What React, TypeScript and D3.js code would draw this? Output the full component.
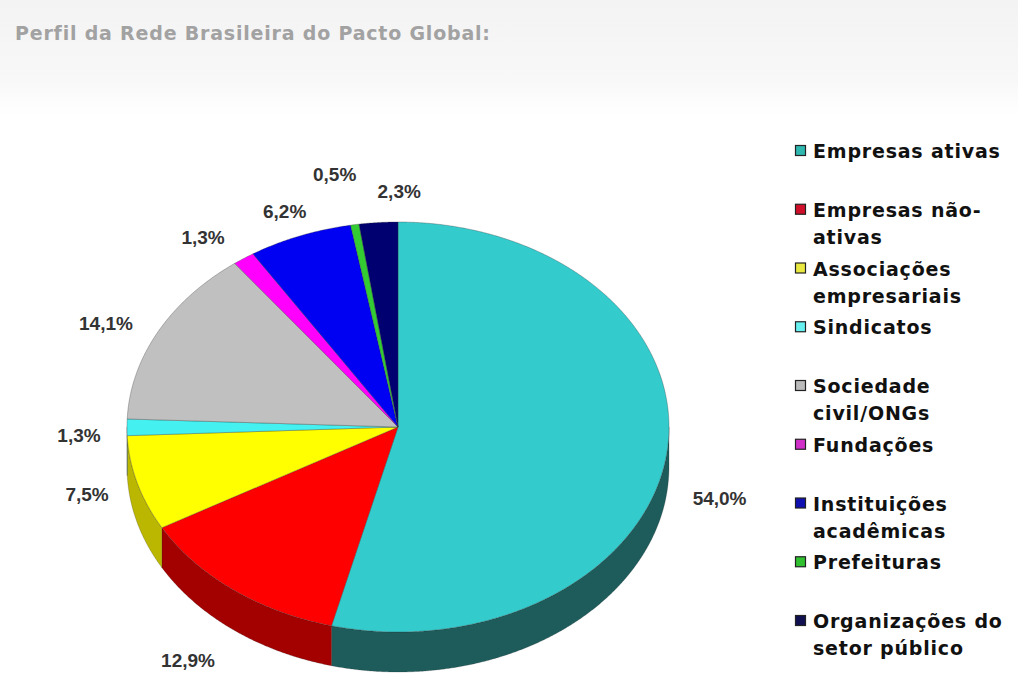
import React from 'react';
import * as d3 from 'd3';

// ---- data ----
const categories = [
  'Empresas ativas',
  'Empresas não-ativas',
  'Associações empresariais',
  'Sindicatos',
  'Sociedade civil/ONGs',
  'Fundações',
  'Instituições acadêmicas',
  'Prefeituras',
  'Organizações do setor público',
];
const legendLines = [
  ['Empresas ativas'],
  ['Empresas não-', 'ativas'],
  ['Associações', 'empresariais'],
  ['Sindicatos'],
  ['Sociedade', 'civil/ONGs'],
  ['Fundações'],
  ['Instituições', 'acadêmicas'],
  ['Prefeituras'],
  ['Organizações do', 'setor público'],
];
const values = [54.0, 12.9, 7.5, 1.3, 14.1, 1.3, 6.2, 0.5, 2.3];
const title = 'Perfil da Rede Brasileira do Pacto Global:';

// ---- styles ----
const topColors = ['#34CBCD', '#FF0000', '#FFFF00', '#44F0F0', '#C0C0C0', '#FF00FF', '#0000F2', '#33CC33', '#000070'];
const sideColors = ['#1E5C5C', '#A30000', '#BBB600', '#2AA0A0', '#808080', '#A000A0', '#0000A0', '#208020', '#000040'];
const legendColors = ['#2FB8B0', '#D0102A', '#E8E840', '#66F0F0', '#BBBBBB', '#D030C8', '#1010B0', '#30C030', '#101050'];
// label nudges relative to the computed outward anchor
const labelNudge: [number, number][] = [
  [8, 2], [-18, 3], [-7, -38], [-3, -32], [-12, 8], [-15, 8], [1, 8], [-13, -16], [24, 4],
];

const W = 1018, H = 675;
const cx = 398, cy = 427, rx = 271, ry = 205, depth = 40;

const pt = (a: number, dy = 0): [number, number] => [cx + rx * Math.sin(a), cy - ry * Math.cos(a) + dy];

function arcPts(a0: number, a1: number, dy = 0): [number, number][] {
  const n = Math.max(2, Math.ceil(Math.abs(a1 - a0) / 0.005));
  return d3.range(n + 1).map(i => pt(a0 + ((a1 - a0) * i) / n, dy));
}

const line = d3.line<[number, number]>().x(d => d[0]).y(d => d[1]);

function topPath(a0: number, a1: number) {
  return line([[cx, cy], ...arcPts(a0, a1)]) + 'Z';
}
function sidePath(a0: number, a1: number) {
  const s = Math.max(a0, Math.PI / 2);
  const e = Math.min(a1, (3 * Math.PI) / 2);
  if (s >= e) return null;
  return line([...arcPts(s, e), ...arcPts(e, s, depth)]) + 'Z';
}

const fmt = d3.formatLocale({ decimal: ',', thousands: '.', grouping: [3], currency: ['R$', ''] }).format('.1f');

export default function App() {
  const arcs = d3.pie<number>().sort(null).startAngle(0).endAngle(2 * Math.PI)(values);
  const legendY = d3.scaleLinear().domain([0, categories.length - 1]).range([158, 628]);

  return (
    <svg width={W} height={H} style={{ position: 'absolute', left: 0, top: 0, display: 'block' }}>
      <defs>
        <linearGradient id="band" x1="0" y1="0" x2="0" y2="1">
          <stop offset="0" stopColor="#f3f3f3" />
          <stop offset="0.7" stopColor="#f8f8f8" />
          <stop offset="1" stopColor="#ffffff" />
        </linearGradient>
      </defs>
      <rect x={0} y={0} width={W} height={H} fill="#fff" />
      <rect x={0} y={0} width={W} height={115} fill="url(#band)" />
      <text x={15} y={40} fontFamily="'DejaVu Sans', Verdana, sans-serif" fontWeight="bold" fontSize={19}
        fill="#a2a2a2" letterSpacing={0.8}>{title}</text>

      {/* sides */}
      <g>
        {arcs.map((d, i) => {
          const p = sidePath(d.startAngle, d.endAngle);
          return p ? <path key={'s' + i} d={p} fill={sideColors[i]} stroke="#222" strokeOpacity={0.35} strokeWidth={0.6} /> : null;
        })}
      </g>
      {/* tops */}
      <g>
        {arcs.map((d, i) => (
          <path key={'t' + i} d={topPath(d.startAngle, d.endAngle)} fill={topColors[i]}
            stroke="#333" strokeOpacity={0.45} strokeWidth={0.7} strokeLinejoin="round" />
        ))}
      </g>
      {/* labels */}
      <g fontFamily="'Liberation Sans', Arial, sans-serif" fontWeight="bold" fontSize={19} fill="#333">
        {arcs.map((d, i) => {
          const a = (d.startAngle + d.endAngle) / 2;
          const front = Math.cos(a) < 0 ? depth : 0;
          const x = cx + (rx + 45) * Math.sin(a) + labelNudge[i][0];
          const y = cy - (ry + 35) * Math.cos(a) + front + labelNudge[i][1];
          return (
            <text key={'l' + i} x={x} y={y} textAnchor="middle" dy="0.35em">{fmt(values[i])}%</text>
          );
        })}
      </g>
      {/* legend */}
      <g fontFamily="'DejaVu Sans', Verdana, sans-serif" fontWeight="bold" fontSize={19} fill="#111" letterSpacing={0.8}>
        {legendLines.map((lines, i) => {
          const y0 = legendY(i);
          return (
            <g key={'g' + i}>
              <rect x={795.5} y={y0 - 12.5} width={10} height={10} fill={legendColors[i]} stroke="#222" strokeWidth={1.2} />
              {lines.map((ln, j) => (
                <text key={j} x={813} y={y0 + j * 27}>{ln}</text>
              ))}
            </g>
          );
        })}
      </g>
    </svg>
  );
}
